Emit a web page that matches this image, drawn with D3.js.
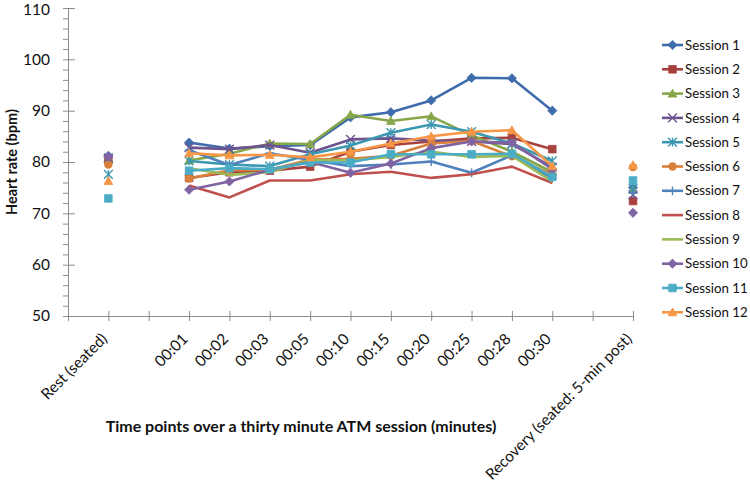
<!DOCTYPE html>
<html>
<head>
<meta charset="utf-8">
<script src="https://cdn.jsdelivr.net/npm/d3@7"></script>
<style>
  body { margin: 0; background: #fff; }
  svg text { font-family: Lato, "Open Sans", sans-serif; fill: #111; }
</style>
</head>
<body>
<div id="chart"></div>
<script>
// Categories (blank slots are spacer categories on the axis)
var categories = ["", "Rest (seated)", "", "00:01", "00:02", "00:03", "00:05", "00:10",
  "00:15", "00:20", "00:25", "00:28", "00:30", "", "Recovery (seated: 5-min post)"];

var sessionNames = ["Session 1", "Session 2", "Session 3", "Session 4", "Session 5", "Session 6",
  "Session 7", "Session 8", "Session 9", "Session 10", "Session 11", "Session 12"];

// Heart rate (bpm) per category, null = no value
var session1  = [null, 81.2, null, 83.8, 82.6, 83.1, 83.3, 88.7, 89.7, 92.0, 96.4, 96.3, 90.0, null, 75.0];
var session2  = [null, 80.4, null, 76.9, 78.0, 78.3, 79.1, 82.0, 83.3, 84.0, 84.6, 84.7, 82.5, null, 72.4];
var session3  = [null, 80.6, null, 80.3, 81.6, 83.6, 83.5, 89.2, 88.0, 88.9, 85.2, 82.0, 78.0, null, 74.6];
var session4  = [null, 80.8, null, 82.8, 82.5, 83.3, 81.8, 84.4, 84.6, 84.2, 84.0, 83.5, 79.0, null, 73.6];
var session5  = [null, 77.6, null, 80.2, 79.5, 79.2, 81.5, 83.2, 85.7, 87.3, 85.9, 83.6, 80.2, null, 74.8];
var session6  = [null, 79.5, null, 76.8, 78.4, 78.5, 80.5, 80.6, 81.2, 83.6, 84.1, 81.1, 77.5, null, 79.0];
var session7  = [null, 80.9, null, 82.3, 79.4, 81.7, 80.4, 79.2, 79.5, 80.1, 77.9, 81.3, 76.8, null, 74.0];
var session8  = [null, null, null, 75.4, 73.1, 76.4, 76.4, 77.6, 78.1, 76.9, 77.6, 79.1, 75.9, null, null];
var session9  = [null, null, null, 78.8, 77.5, 78.0, 80.4, 80.3, 81.0, 82.0, 81.0, 81.2, 76.2, null, null];
var session10 = [null, 81.0, null, 74.6, 76.2, 78.5, 80.0, 77.9, 79.7, 82.7, 84.0, 83.8, 78.6, null, 70.1];
var session11 = [null, 72.9, null, 78.3, 78.8, 78.6, 79.9, 79.9, 81.5, 81.5, 81.5, 81.6, 77.1, null, 76.4];
var session12 = [null, 76.3, null, 81.7, 81.3, 81.4, 80.9, 82.0, 83.6, 85.0, 85.9, 86.2, 79.2, null, 79.4];

var seriesValues = [session1, session2, session3, session4, session5, session6,
  session7, session8, session9, session10, session11, session12];

var yTicks = [50, 60, 70, 80, 90, 100, 110];

var colors = ["#3F6CAD", "#A8413E", "#86A649", "#6E548F", "#3C97B0", "#D9803A",
  "#4F81BD", "#C0504D", "#9BBB59", "#8064A2", "#4BACC6", "#F79646"];
var markers = ["diamond", "square", "triangle", "x", "star", "circle",
  "plus", "none", "none", "diamond", "square", "triangle"];

var svgWidth = 750, svgHeight = 486;
var plot = { left: 68, right: 633, top: 8, bottom: 316 };

var svg = d3.select("#chart").append("svg")
  .attr("width", svgWidth)
  .attr("height", svgHeight);

var xScale = d3.scalePoint()
  .domain(d3.range(categories.length))
  .range([plot.left, plot.right])
  .padding(0);

var yScale = d3.scaleLinear()
  .domain([50, 110])
  .range([plot.bottom, plot.top]);

var axisColor = "#8c8c8c";

// y axis: minor ticks every 2, major every 10
var yAxisG = svg.append("g").attr("transform", `translate(${plot.left},0)`);
yAxisG.call(d3.axisLeft(yScale).tickValues(d3.range(50, 111, 2)).tickSize(5).tickFormat(""));
yAxisG.append("g")
  .call(d3.axisRight(yScale).tickValues(yTicks).tickSize(7).tickFormat(""));
yAxisG.selectAll("path.domain").attr("stroke", axisColor);
yAxisG.selectAll("line").attr("stroke", axisColor);
yAxisG.selectAll(".tick text").remove();
yAxisG.select("g").select("path.domain").remove();

svg.append("g").selectAll("text")
  .data(yTicks)
  .enter()
  .append("text")
  .attr("x", 50)
  .attr("y", d => Math.max(yScale(d) + 5.4, 15))
  .attr("text-anchor", "end")
  .style("font-size", "15.5px")
  .text(d => d);

// x axis: ticks cross the line
var xAxisG = svg.append("g").attr("transform", `translate(0,${plot.bottom})`);
xAxisG.call(d3.axisBottom(xScale).tickSize(5).tickSizeOuter(0).tickFormat(""));
xAxisG.append("g").call(d3.axisTop(xScale).tickSize(5).tickSizeOuter(0).tickFormat(""));
xAxisG.selectAll("path.domain").attr("stroke", axisColor);
xAxisG.selectAll("line").attr("stroke", axisColor);

svg.append("g").selectAll("text")
  .data(categories.map((c, i) => ({ c: c, i: i })).filter(d => d.c !== ""))
  .enter()
  .append("text")
  .attr("transform", d => `translate(${xScale(d.i) - 4},${plot.bottom + 20}) rotate(-45)`)
  .attr("text-anchor", "end")
  .attr("dy", "0.35em")
  .style("font-size", "15.4px")
  .text(d => d.c);

// axis titles
svg.append("text")
  .attr("x", 301)
  .attr("y", 432)
  .attr("text-anchor", "middle")
  .style("font-size", "16px")
  .style("font-weight", "bold")
  .text("Time points over a thirty minute ATM session (minutes)");

svg.append("text")
  .attr("transform", "translate(17,162) rotate(-90)")
  .attr("text-anchor", "middle")
  .style("font-size", "14.5px")
  .style("font-weight", "bold")
  .text("Heart rate (bpm)");

function markerPath(type, r) {
  switch (type) {
    case "diamond": return `M0,${-r}L${r},0L0,${r}L${-r},0Z`;
    case "square": return `M${-r},${-r}H${r}V${r}H${-r}Z`;
    case "triangle": return `M0,${-r}L${r},${r * 0.8}L${-r},${r * 0.8}Z`;
    case "x": return `M${-r},${-r}L${r},${r}M${r},${-r}L${-r},${r}`;
    case "star": return `M${-r},${-r}L${r},${r}M${r},${-r}L${-r},${r}M0,${-r}L0,${r}`;
    case "plus": return `M${-r},0L${r},0M0,${-r}L0,${r}`;
    default: return "";
  }
}

function drawMarker(g, type, color, x, y) {
  if (type === "none") return;
  if (type === "circle") {
    g.append("circle").attr("cx", x).attr("cy", y).attr("r", 4.2).attr("fill", color);
    return;
  }
  var r = type === "square" ? 3.8 : (type === "diamond" ? 4.6 : 4.4);
  var filled = ["diamond", "square", "triangle"].indexOf(type) >= 0;
  g.append("path")
    .attr("d", markerPath(type, r))
    .attr("transform", `translate(${x},${y})`)
    .attr("fill", filled ? color : "none")
    .attr("stroke", color)
    .attr("stroke-width", filled ? 0.8 : 1.4);
}

var line = d3.line()
  .defined(d => d != null)
  .x((d, i) => xScale(i))
  .y(d => yScale(d));

var seriesG = svg.append("g");
seriesValues.forEach(function(vals, s) {
  var g = seriesG.append("g");
  g.append("path")
    .datum(vals)
    .attr("d", line)
    .attr("fill", "none")
    .attr("stroke", colors[s])
    .attr("stroke-width", 2.6)
    .attr("stroke-linejoin", "round");
  vals.forEach(function(v, i) {
    if (v != null) drawMarker(g, markers[s], colors[s], xScale(i), yScale(v));
  });
});

// legend
var legend = svg.append("g");
sessionNames.forEach(function(name, s) {
  var y = 45 + s * 24.3;
  var g = legend.append("g");
  g.append("line")
    .attr("x1", 662).attr("x2", 683)
    .attr("y1", y).attr("y2", y)
    .attr("stroke", colors[s])
    .attr("stroke-width", 2.6);
  drawMarker(g, markers[s], colors[s], 672.5, y);
  g.append("text")
    .attr("x", 685)
    .attr("y", y)
    .attr("dy", "0.35em")
    .style("font-size", "13.3px")
    .text(name);
});
</script>
</body>
</html>
